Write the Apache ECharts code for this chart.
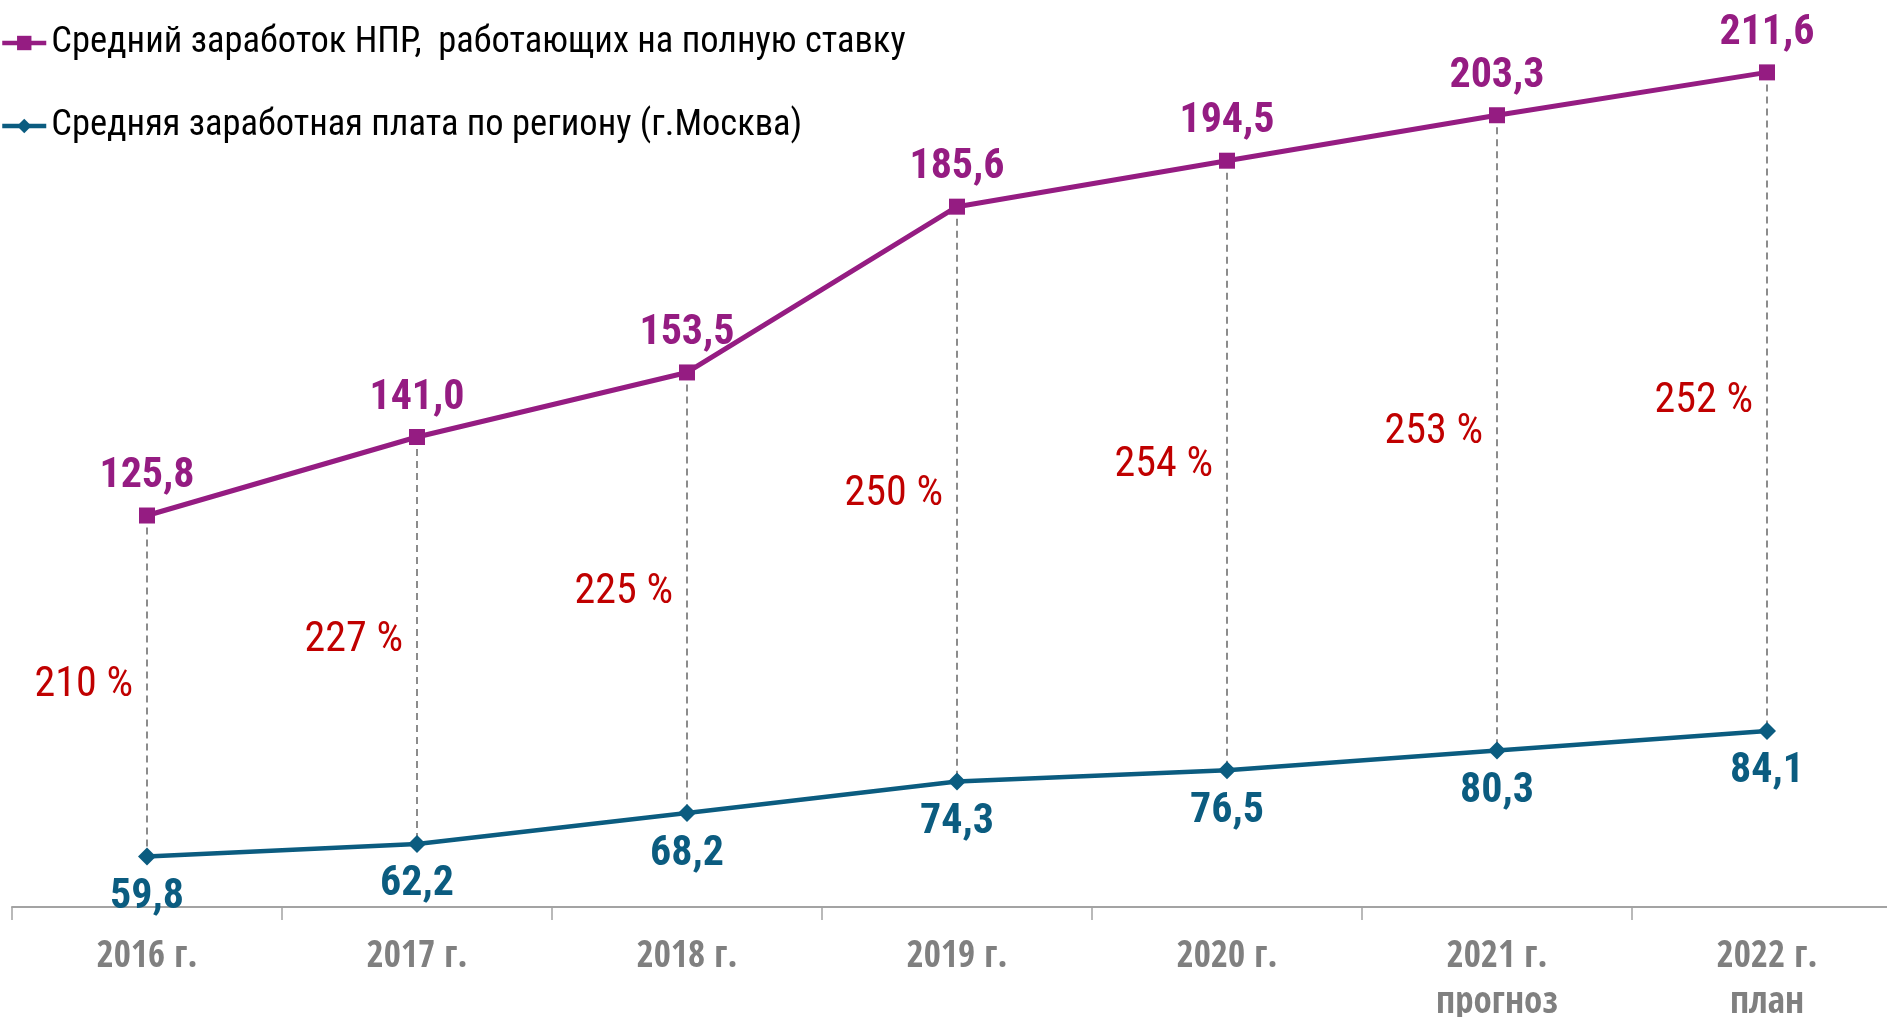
<!DOCTYPE html>
<html>
<head>
<meta charset="utf-8">
<script src="https://cdn.jsdelivr.net/npm/echarts@6/dist/echarts.min.js"></script>
<style>
  html, body { margin: 0; padding: 0; background: #fff; }
  #chart { width: 1887px; height: 1017px; }
</style>
</head>
<body>
<div id="chart"></div>
<script>
const years = ['2016 г.', '2017 г.', '2018 г.', '2019 г.', '2020 г.', '2021 г.\nпрогноз', '2022 г.\nплан']
const npr = [125.8, 141.0, 153.5, 185.6, 194.5, 203.3, 211.6]
const moscow = [59.8, 62.2, 68.2, 74.3, 76.5, 80.3, 84.1]
const ratio = [210, 227, 225, 250, 254, 253, 252]
const nprName = 'Средний заработок НПР,  работающих на полную ставку'
const moscowName = 'Средняя заработная плата по региону (г.Москва)'

const NARROW = '"Roboto Condensed", "Liberation Sans", sans-serif'
const AXISFONT = '"Open Sans Condensed", "Roboto Condensed", sans-serif'
const PURPLE = '#951c82'
const BLUE = '#0b5c80'

const fmt = (p) => p.value.toFixed(1).replace('.', ',')

const chart = echarts.init(document.getElementById('chart'))

chart.setOption({
  animation: false,
  legend: {
    orient: 'vertical',
    left: 0,
    top: 23,
    padding: 0,
    itemWidth: 44,
    itemHeight: 18,
    itemGap: 43,
    lineStyle: { width: 4.5 },
    textStyle: { color: '#000', fontSize: 36.5, lineHeight: 40, fontFamily: NARROW },
    data: [nprName, moscowName]
  },
  grid: { left: 12, width: 1890, top: 29, bottom: 110, outerBoundsMode: 'none' },
  xAxis: {
    type: 'category',
    data: years,
    axisLine: { lineStyle: { color: '#a3a3a3', width: 2 } },
    axisTick: { show: true, length: 13, lineStyle: { color: '#a3a3a3', width: 1.5 } },
    axisLabel: {
      interval: 0,
      margin: 27,
      color: '#808080',
      fontSize: 37,
      lineHeight: 46,
      fontWeight: 'bold',
      fontFamily: AXISFONT
    }
  },
  yAxis: { type: 'value', min: 50, max: 220, show: false },
  series: [
    {
      type: 'custom',
      z: 1,
      silent: true,
      data: years.map((_, i) => [i, npr[i], moscow[i], ratio[i]]),
      encode: { x: 0, y: [1, 2] },
      renderItem(params, api) {
        const top = api.coord([api.value(0), api.value(1)])
        const bot = api.coord([api.value(0), api.value(2)])
        return {
          type: 'group',
          children: [
            {
              type: 'line',
              shape: { x1: top[0], y1: top[1], x2: bot[0], y2: bot[1] },
              style: { stroke: '#8c8c8c', lineWidth: 2, lineDash: [7, 5] }
            },
            {
              type: 'text',
              x: top[0] - 14,
              y: (top[1] + bot[1]) / 2,
              style: {
                text: api.value(3) + ' %',
                fill: '#c00000',
                fontSize: 42,
                fontFamily: NARROW,
                align: 'right',
                verticalAlign: 'middle'
              }
            }
          ]
        }
      }
    },
    {
      name: nprName,
      type: 'line',
      z: 3,
      data: npr,
      symbol: 'rect',
      symbolSize: 16,
      lineStyle: { color: PURPLE, width: 5 },
      itemStyle: { color: PURPLE },
      label: {
        show: true,
        position: 'top',
        distance: 10,
        color: PURPLE,
        fontSize: 42,
        fontWeight: 'bold',
        fontFamily: NARROW,
        formatter: fmt
      }
    },
    {
      name: moscowName,
      type: 'line',
      z: 3,
      data: moscow,
      symbol: 'diamond',
      symbolSize: 18,
      lineStyle: { color: BLUE, width: 4.5 },
      itemStyle: { color: BLUE },
      label: {
        show: true,
        position: 'bottom',
        distance: 11,
        color: BLUE,
        fontSize: 42,
        fontWeight: 'bold',
        fontFamily: NARROW,
        formatter: fmt
      }
    }
  ]
})

window.addEventListener('resize', () => chart.resize())
</script>
</body>
</html>
